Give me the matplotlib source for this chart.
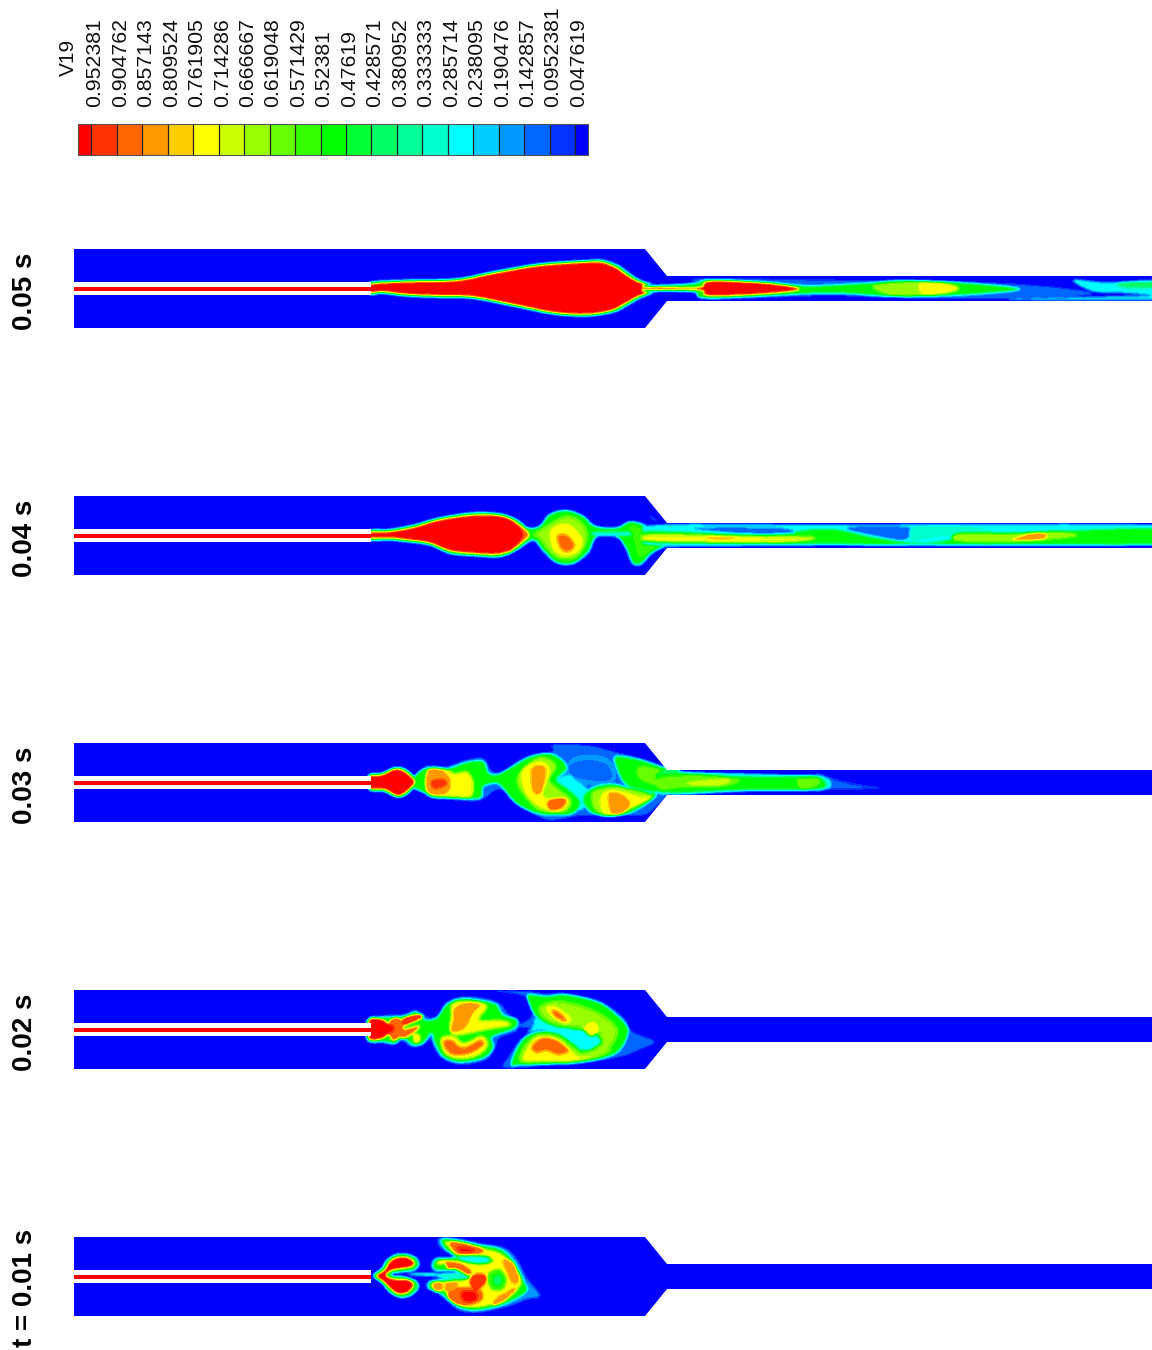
import numpy as np
import matplotlib
matplotlib.use('Agg')
import matplotlib.pyplot as plt
from matplotlib.colors import ListedColormap, BoundaryNorm
from matplotlib.path import Path
from matplotlib.patches import Polygon

plt.rcParams['font.family'] = ['Liberation Sans', 'DejaVu Sans']

# contour levels of V19, top of the legend first
level_labels = ['0.952381', '0.904762', '0.857143', '0.809524', '0.761905', '0.714286', '0.666667',
                '0.619048', '0.571429', '0.52381', '0.47619', '0.428571', '0.380952', '0.333333',
                '0.285714', '0.238095', '0.190476', '0.142857', '0.0952381', '0.047619']
levels = [float(s) for s in level_labels]
band_colors = ['#FF0000', '#FF3300', '#FF6600', '#FF9900', '#FFCC00', '#FFFF00', '#CCFF00',
               '#99FF00', '#66FF00', '#33FF00', '#00FF00', '#00FF33', '#00FF66', '#00FF99',
               '#00FFCC', '#00FFFF', '#00CCFF', '#0099FF', '#0066FF', '#0033FF', '#0000FF']
panel_labels = ['0.05 s', '0.04 s', '0.03 s', '0.02 s', 't = 0.01 s']
panel_tops = [249, 496, 743, 990, 1237]

# channel outline, (x pixel, offset from the centre line)
channel_x = [74, 645, 667, 1152]
channel_half = [39.5, 39.5, 12.5, 12.5]

plume_001 = [
    (0.45, [(100,168),(125,146),(140,122),(165,105),(195,102),(228,113),(238,135),(222,152),(190,157),(160,160),(160,168),(190,170),(228,183),(236,205),(212,228),(180,233),(150,218),(128,192)]),
    (0.98, [(110,168),(135,150),(150,125),(175,112),(205,113),(225,130),(210,143),(175,148),(150,155),(140,168),(165,178),(205,180),(222,195),(205,218),(175,222),(150,205),(130,185)]),
    (0.28, [(215,160),(290,160),(290,170),(215,166)]),
    (0.15, [(298,55),(350,55),(420,70),(492,83),(532,118),(562,175),(602,228),(560,240),(500,262),(420,278),(360,273),(318,242),(288,217),(262,207),(258,190),(283,178),(350,170),(380,165),(340,155),(288,157),(272,135),(288,112),(338,113),(298,80)]),
    (0.5, [(305,60),(345,60),(420,76),(485,90),(525,130),(552,185),(560,215),(500,250),(420,270),(365,265),(330,240),(295,215),(270,208),(268,190),(285,183),(350,178),(385,168),(345,152),(290,150),(280,135),(295,118),(350,112),(318,88)]),
    (0.74, [(320,65),(420,85),(480,100),(520,135),(545,190),(495,240),(420,262),(365,258),(335,235),(310,210),(280,205),(275,192),(300,188),(380,178),(400,160),(380,140),(340,128),(300,135),(290,128),(310,120),(370,125),(440,132),(460,120),(420,108),(350,105),(325,80)]),
    (0.27, [(355,110),(440,110),(448,125),(420,132),(375,126)]),
    (0.3, [(300,162),(350,158),(385,160),(380,178),(340,178),(295,172)]),
    (0.9, [(330,66),(375,70),(432,88),(415,102),(360,104),(340,88)]),
    (0.96, [(355,82),(400,88),(395,98),(365,98)]),
    (0.55, [(448,158),(480,148),(500,175),(492,207),(460,212),(443,185)]),
    (0.42, [(460,170),(482,165),(488,190),(465,198)]),
    (0.85, [(490,122),(522,130),(537,180),(520,192),(505,165)]),
    (0.85, [(470,235),(505,215),(522,205),(527,215),(490,247),(460,257)]),
    (0.9, [(320,126),(365,133),(397,155),(385,167),(350,148),(325,147)]),
    (0.95, [(395,168),(430,163),(442,180),(420,207),(393,200)]),
    (0.9, [(322,225),(360,203),(422,212),(427,240),(385,257),(345,252)]),
    (0.98, [(368,218),(407,218),(407,242),(373,242)]),
    (0.85, [(280,190),(305,188),(307,212),(285,214)]),
    (0.85, [(320,188),(352,188),(347,214),(320,214)]),
]
plume_002 = [
    (0.12, [(80,135),(130,122),(190,118),(230,105),(260,125),(295,122),(320,82),(370,65),(435,70),(480,85),(510,120),(540,138),(530,170),(480,190),(465,225),(435,258),(360,270),(305,250),(280,215),(272,195),(250,212),(215,218),(185,198),(165,212),(130,207),(80,200)]),
    (0.5, [(85,135),(130,128),(190,125),(230,112),(255,135),(290,130),(320,90),(365,72),(430,78),(470,90),(490,120),(530,135),(525,160),(470,180),(455,190),(460,220),(430,250),(360,262),(310,245),(285,205),(275,175),(250,205),(220,210),(190,190),(165,205),(130,200),(85,195)]),
    (0.72, [(335,88),(370,78),(427,83),(442,100),(420,135),(480,135),(512,145),(505,155),(445,165),(400,175),(345,182),(328,160),(333,125)]),
    (0.85, [(345,100),(380,85),(422,90),(400,115),(375,160),(335,170),(342,130)]),
    (0.72, [(303,190),(340,183),(375,203),(420,183),(442,195),(442,220),(405,247),(350,252),(313,234)]),
    (0.87, [(310,200),(335,195),(370,218),(420,195),(432,210),(395,235),(345,242),(318,225)]),
    (0.9, [(150,138),(175,128),(192,150),(185,182),(160,197),(145,170)]),
    (0.95, [(190,130),(240,118),(247,130),(210,147),(195,152)]),
    (0.74, [(220,178),(240,180),(240,200),(225,205)]),
    (0.88, [(180,170),(235,153),(232,167),(190,192)]),
    (0.98, [(88,135),(125,133),(150,150),(162,160),(150,175),(125,192),(88,192)]),
    (0.12, [(460,48),(560,50),(620,56),(680,56),(780,78),(852,128),(878,170),(945,200),(900,225),(840,247),(720,267),(620,272),(540,279),(488,277),(510,240),(545,190),(610,165),(680,175),(720,210),(750,200),(690,165),(600,160),(535,155),(570,130),(580,100),(555,65)]),
    (0.5, [(565,60),(620,65),(680,60),(780,85),(845,135),(865,170),(840,225),(790,250),(700,265),(620,268),(545,270),(515,270),(530,225),(560,185),(610,170),(660,178),(700,205),(730,225),(770,195),(760,175),(700,165),(640,155),(590,125),(570,90)]),
    (0.62, [(598,95),(650,78),(720,90),(790,120),(835,165),(815,215),(770,240),(730,232),(775,200),(770,170),(700,158),(640,148),(605,125)]),
    (0.27, [(590,130),(640,157),(720,170),(772,185),(782,205),(740,228),(705,207),(670,180),(615,165),(570,172),(556,178),(580,155)]),
    (0.74, [(618,100),(650,95),(695,130),(680,148),(640,130)]),
    (0.87, [(635,108),(655,110),(680,135),(670,140),(645,125)]),
    (0.74, [(730,160),(762,140),(778,165),(755,185)]),
    (0.62, [(545,225),(590,178),(650,182),(700,215),(735,235),(815,220),(780,248),(700,262),(620,265),(545,265)]),
    (0.74, [(552,240),(590,188),(650,192),(692,225),(720,245),(770,240),(700,258),(620,258),(560,258)]),
    (0.87, [(575,215),(605,190),(650,195),(688,228),(655,240),(620,228),(590,235)]),
    (0.12, [(855,215),(945,200),(890,222),(865,232)]),
]
plume_003 = [
    (0.13, [(640,45),(750,48),(820,65),(900,85),(960,105),(985,122),(1022,122),(1022,192),(985,195),(960,220),(915,255),(820,255),(720,258),(640,272),(600,262),(530,225),(480,178),(420,212),(340,210),(270,204),(238,172),(222,162),(215,150),(262,108),(320,110),(380,90),(432,86),(455,122),(490,130),(530,96),(580,74),(640,64)]),
    (0.17, [(700,85),(800,85),(825,150),(760,165),(690,150)]),
    (0.1, [(690,108),(740,92),(800,105),(815,145),(770,152),(700,138)]),
    (0.27, [(650,150),(690,135),(705,150),(740,175),(745,200),(725,240),(700,225),(680,175)]),
    (0.5, [(205,150),(270,125),(270,190),(205,165)]),
    (0.5, [(225,142),(260,115),(320,118),(380,98),(430,95),(445,128),(470,135),(510,115),(570,82),(630,72),(670,95),(680,120),(650,150),(680,175),(720,215),(700,250),(650,255),(590,250),(530,220),(490,175),(470,160),(430,170),(420,205),(340,205),(275,200),(240,170)]),
    (0.5, [(735,195),(770,170),(830,165),(900,190),(950,195),(880,245),(810,260),(760,250),(735,225)]),
    (0.5, [(830,80),(900,90),(960,110),(1022,125),(1022,185),(980,190),(930,185),(860,165),(830,110)]),
    (0.72, [(265,120),(320,118),(345,130),(380,125),(400,150),(400,190),(380,205),(300,198),(260,185)]),
    (0.85, [(262,125),(300,118),(330,145),(330,180),(300,198),(262,185)]),
    (0.95, [(275,155),(310,150),(318,165),(285,175)]),
    (0.63, [(530,150),(590,85),(635,90),(650,115),(630,150),(660,180),(695,210),(680,245),(630,250),(580,230)]),
    (0.74, [(545,125),(590,95),(625,105),(630,135),(610,190),(625,205),(680,205),(680,235),(640,245),(590,225),(555,185)]),
    (0.85, [(575,120),(600,108),(618,120),(605,185),(580,185)]),
    (0.9, [(625,215),(655,205),(680,210),(665,235),(630,240)]),
    (0.63, [(755,190),(790,175),(840,170),(940,198),(870,240),(810,258),(765,240)]),
    (0.74, [(790,190),(830,180),(900,200),(930,205),(850,245),(800,255),(780,225)]),
    (0.85, [(808,192),(845,195),(870,220),(850,250),(815,250)]),
    (0.6, [(900,110),(960,120),(1022,150),(1022,165),(940,165),(895,140)]),
    (0.45, [(88,135),(125,130),(165,113),(200,120),(232,157),(200,195),(170,202),(130,185),(88,180)]),
    (0.98, [(88,140),(125,135),(165,118),(195,125),(225,157),(195,190),(170,197),(135,180),(88,175)]),
]
plume_004 = [
    (0.12, [(88,134),(150,131),(220,118),(300,96),(400,81),(480,84),(530,101),(565,126),(600,121),(630,86),(680,74),(730,91),(768,121),(830,126),(870,108),(912,116),(952,136),(1022,141),(1022,184),(975,189),(938,209),(905,243),(875,238),(855,190),(830,160),(772,160),(750,205),(700,240),(650,237),(607,200),(580,170),(530,199),(480,219),(400,216),(330,209),(270,184),(200,174),(150,169),(88,169)]),
    (0.5, [(88,138),(150,135),(220,122),(300,100),(400,85),(480,88),(530,105),(565,130),(600,125),(630,90),(680,78),(730,95),(765,125),(830,130),(870,112),(910,120),(950,140),(1022,145),(1022,180),(975,185),(935,205),(905,235),(880,235),(860,190),(830,155),(770,155),(745,200),(700,235),(650,232),(610,195),(580,165),(530,195),(480,215),(400,212),(330,205),(270,180),(200,170),(150,165),(88,165)]),
    (0.28, [(765,142),(870,142),(870,152),(765,152)]),
    (0.62, [(615,125),(680,92),(730,115),(745,160),(715,215),(670,225),(630,205),(600,165),(580,150)]),
    (0.74, [(635,130),(680,115),(715,140),(730,175),(710,205),(670,215),(640,195),(630,160)]),
    (0.87, [(652,155),(680,150),(705,180),(690,200),(665,195)]),
    (0.57, [(870,125),(915,135),(950,150),(1022,150),(1022,180),(980,180),(935,195),(900,215),(885,170)]),
    (0.74, [(980,150),(1022,150),(1022,175),(980,172)]),
    (0.88, [(500,105),(545,125),(568,150),(545,175),(500,200)]),
    (0.98, [(88,143),(150,140),(220,128),(300,105),(400,91),(480,93),(525,112),(550,150),(525,185),(480,208),(400,206),(330,198),(270,175),(200,165),(150,160),(88,160)]),
    (0.12, [(930,92),(955,108),(945,108),(930,98)]),
]
plume_005 = [
    (0.12, [(88,126),(200,118),(350,114),(470,91),(600,69),(740,59),(795,59),(840,75),(870,97),(904,119),(960,135),(1022,139),(1022,153),(960,157),(904,178),(870,197),(825,220),(740,232),(640,226),(520,202),(400,179),(300,176),(200,172),(130,164),(88,166)]),
    (0.5, [(88,130),(200,122),(350,118),(470,95),(600,73),(740,63),(790,63),(835,79),(865,100),(900,122),(960,139),(1022,142),(1022,150),(960,153),(900,174),(865,194),(820,216),(740,228),(640,222),(520,198),(400,175),(300,172),(200,168),(130,160),(88,162)]),
    (0.98, [(88,134),(200,126),(350,122),(470,99),(600,77),(740,67),(785,67),(828,83),(858,104),(896,126),(960,143),(1022,144),(1022,148),(960,149),(896,170),(858,190),(815,212),(740,224),(640,218),(520,194),(400,171),(300,168),(200,164),(130,156),(88,158)]),
]
# downstream parts, from crops with another origin
tail_003 = [
    (0.1, [(470,72),(520,85),(580,100),(670,115),(580,120),(500,120),(470,125)]),
    (0.28, [(0,68),(120,68),(380,75),(480,78),(515,100),(480,122),(260,125),(0,132)]),
    (0.5, [(0,72),(120,72),(240,80),(400,80),(470,80),(497,100),(470,118),(260,120),(0,126)]),
    (0.6, [(0,85),(120,78),(220,85),(240,95),(190,110),(80,112),(0,118)]),
    (0.7, [(80,100),(130,92),(210,88),(190,105),(110,108)]),
    (0.6, [(415,88),(470,85),(480,100),(450,118),(420,115)]),
]
tail_004 = [
    (0.27, [(-40,78),(500,75),(1560,78),(1560,133),(500,137),(-40,135)]),
    (0.5, [(-40,95),(300,105),(500,88),(650,115),(800,130),(1000,105),(1560,85),(1560,130),(1000,133),(600,133),(-40,125)]),
    (0.1, [(560,85),(700,80),(760,90),(730,120),(650,108)]),
    (0.1, [(100,85),(350,85),(400,100),(250,100)]),
    (0.3, [(760,85),(900,80),(1000,95),(850,110),(760,120)]),
    (0.72, [(-40,105),(120,105),(250,108),(460,112),(400,127),(200,130),(-40,125)]),
    (0.82, [(140,112),(240,113),(200,120),(150,118)]),
    (0.64, [(900,100),(1050,100),(1200,95),(1250,110),(1100,125),(950,128),(880,120)]),
    (0.85, [(1060,118),(1120,100),(1160,103),(1150,118),(1080,122)]),
]
tail_005 = [
    (0.12, [(-40,76),(100,68),(130,56),(600,62),(1060,72),(1300,100),(1100,116),(700,114),(500,108),(150,118),(100,100),(-40,96)]),
    (0.5, [(-40,82),(100,72),(150,60),(320,68),(450,78),(620,70),(720,62),(900,68),(1080,88),(900,106),(700,110),(500,100),(150,115),(100,95),(-40,92)]),
    (0.64, [(640,78),(750,66),(850,68),(900,85),(850,103),(700,108)]),
    (0.74, [(780,70),(860,72),(895,87),(850,102),(790,105)]),
    (0.98, [(150,64),(320,70),(420,88),(320,102),(150,108),(135,90)]),
    (0.98, [(-40,81),(100,84),(150,76),(150,95),(100,90),(-40,90)]),
    (0.27, [(1240,60),(1350,68),(1560,60),(1560,108),(1400,100),(1300,95)]),
    (0.4, [(1370,70),(1430,65),(1560,70),(1560,80),(1410,85)]),
    (0.25, [(1060,118),(1560,106),(1560,120),(1060,122)]),
]
# (main regions, crop top), (tail regions, crop left, crop top)
panels = [
    (plume_005, 240, tail_005, 660, 260),
    (plume_004, 485, tail_004, 660, 500),
    (plume_003, 730, tail_003, 660, 750),
    (plume_002, 975, [], 660, 975),
    (plume_001, 1220, [], 660, 1220),
]


def smooth_path(pts):
    # closed cubic through the traced points, no corners and no shrinking
    pts = np.array(pts, dtype=float)
    prev = np.roll(pts, 1, axis=0)
    nxt = np.roll(pts, -1, axis=0)
    nxt2 = np.roll(pts, -2, axis=0)
    verts = [pts[0]]
    codes = [Path.MOVETO]
    for p0, p1, p2, p3 in zip(prev, pts, nxt, nxt2):
        verts += [p1 + (p2 - p0) / 6, p2 - (p3 - p1) / 6, p2]
        codes += [Path.CURVE4] * 3
    return Path(np.array(verts), codes)


def paint(field, xs, ys, regions, x0, y0):
    for value, pts in regions:
        pts = [(x0 + a / 3, y0 + b / 3) for a, b in pts]
        path = smooth_path(pts)
        arr = np.array(pts)
        ix = np.where((xs >= arr[:, 0].min() - 4) & (xs <= arr[:, 0].max() + 4))[0]
        iy = np.where((ys >= arr[:, 1].min() - 4) & (ys <= arr[:, 1].max() + 4))[0]
        if len(ix) == 0 or len(iy) == 0:
            continue
        gx, gy = np.meshgrid(xs[ix], ys[iy])
        mask = path.contains_points(np.c_[gx.ravel(), gy.ravel()]).reshape(gx.shape)
        sub = field[iy[0]:iy[-1] + 1, ix[0]:ix[-1] + 1]
        sub[mask] = value


def soften(field, sigma):
    # edges run through the colour bands as in the solver output
    r = int(3 * sigma)
    k = np.exp(-0.5 * (np.arange(-r, r + 1) / sigma) ** 2)
    k = k / k.sum()
    pad = np.pad(field, r, mode='edge')
    pad = np.apply_along_axis(lambda v: np.convolve(v, k, mode='same'), 0, pad)
    pad = np.apply_along_axis(lambda v: np.convolve(v, k, mode='same'), 1, pad)
    return pad[r:-r, r:-r]


fig = plt.figure(figsize=(11.52, 13.5), dpi=100)
ax = fig.add_axes([0, 0, 1, 1])
ax.axis('off')

bounds = [0.0] + levels[::-1] + [1.0]
cmap = ListedColormap(band_colors[::-1])
norm = BoundaryNorm(bounds, cmap.N)

res = 2
for top, label, (main, y0, tail, tx, ty) in zip(panel_tops, panel_labels, panels):
    mid = top + channel_half[0]
    xs = np.arange(channel_x[0], channel_x[-1], 1 / res) + 0.25
    ys = np.arange(top - 1, top + 81, 1 / res) + 0.25
    field = np.zeros((len(ys), len(xs)))
    paint(field, xs, ys, main, 340, y0)
    paint(field, xs, ys, tail, tx, ty)
    field = soften(field, 1.2 * res)
    im = ax.imshow(field, cmap=cmap, norm=norm, interpolation='nearest', aspect='auto',
                   extent=[xs[0] - 0.25, xs[-1] + 0.25, ys[-1] + 0.25, ys[0] - 0.25])
    outline = [(x, mid - h) for x, h in zip(channel_x, channel_half)] + \
              [(x, mid + h) for x, h in zip(channel_x[::-1], channel_half[::-1])]
    im.set_clip_path(Polygon(outline, transform=ax.transData))
    # injector: white tube with the red stream inside
    ax.fill_between([channel_x[0], 371], mid - 6.5, mid + 6.5, color='white', lw=0, zorder=3)
    ax.fill_between([channel_x[0], 371], mid - 2, mid + 2, color='#FF0000', lw=0, zorder=4)
    ax.text(25, top + 81 if label != 't = 0.01 s' else top + 110, label, rotation=90, fontsize=20,
            fontweight='bold', ha='center', va='bottom', color='black')

ax.set_xlim(0, 1152)
ax.set_ylim(1350, 0)
ax.text(68, 76, 'V19', rotation=90, fontsize=15, ha='center', va='bottom', color='#111111')

# legend bar
cax = fig.add_axes([78 / 1152, 1 - 155 / 1350, 510 / 1152, 31 / 1350])
bar_edges = [0.9776] + levels + [0.0233]
cax.pcolormesh(bar_edges, [0, 1], np.arange(21).reshape(1, -1), cmap=ListedColormap(band_colors),
               edgecolors='none')
for lv in levels:
    cax.axvline(lv, color='#222222', lw=0.9)
cax.set_xlim(0.9776, 0.0233)
cax.set_ylim(0, 1)
cax.set_xticks([])
cax.set_yticks([])
for lv, s in zip(levels, level_labels):
    cax.annotate(s, (lv, 1), xycoords=('data', 'axes fraction'), xytext=(2.5, 12), textcoords='offset points',
                 rotation=90, fontsize=15.3, color='#111111', ha='center', va='bottom', annotation_clip=False)
for sp in cax.spines.values():
    sp.set_color('#555555')
    sp.set_linewidth(0.8)

fig.savefig('out.png', dpi=100)
